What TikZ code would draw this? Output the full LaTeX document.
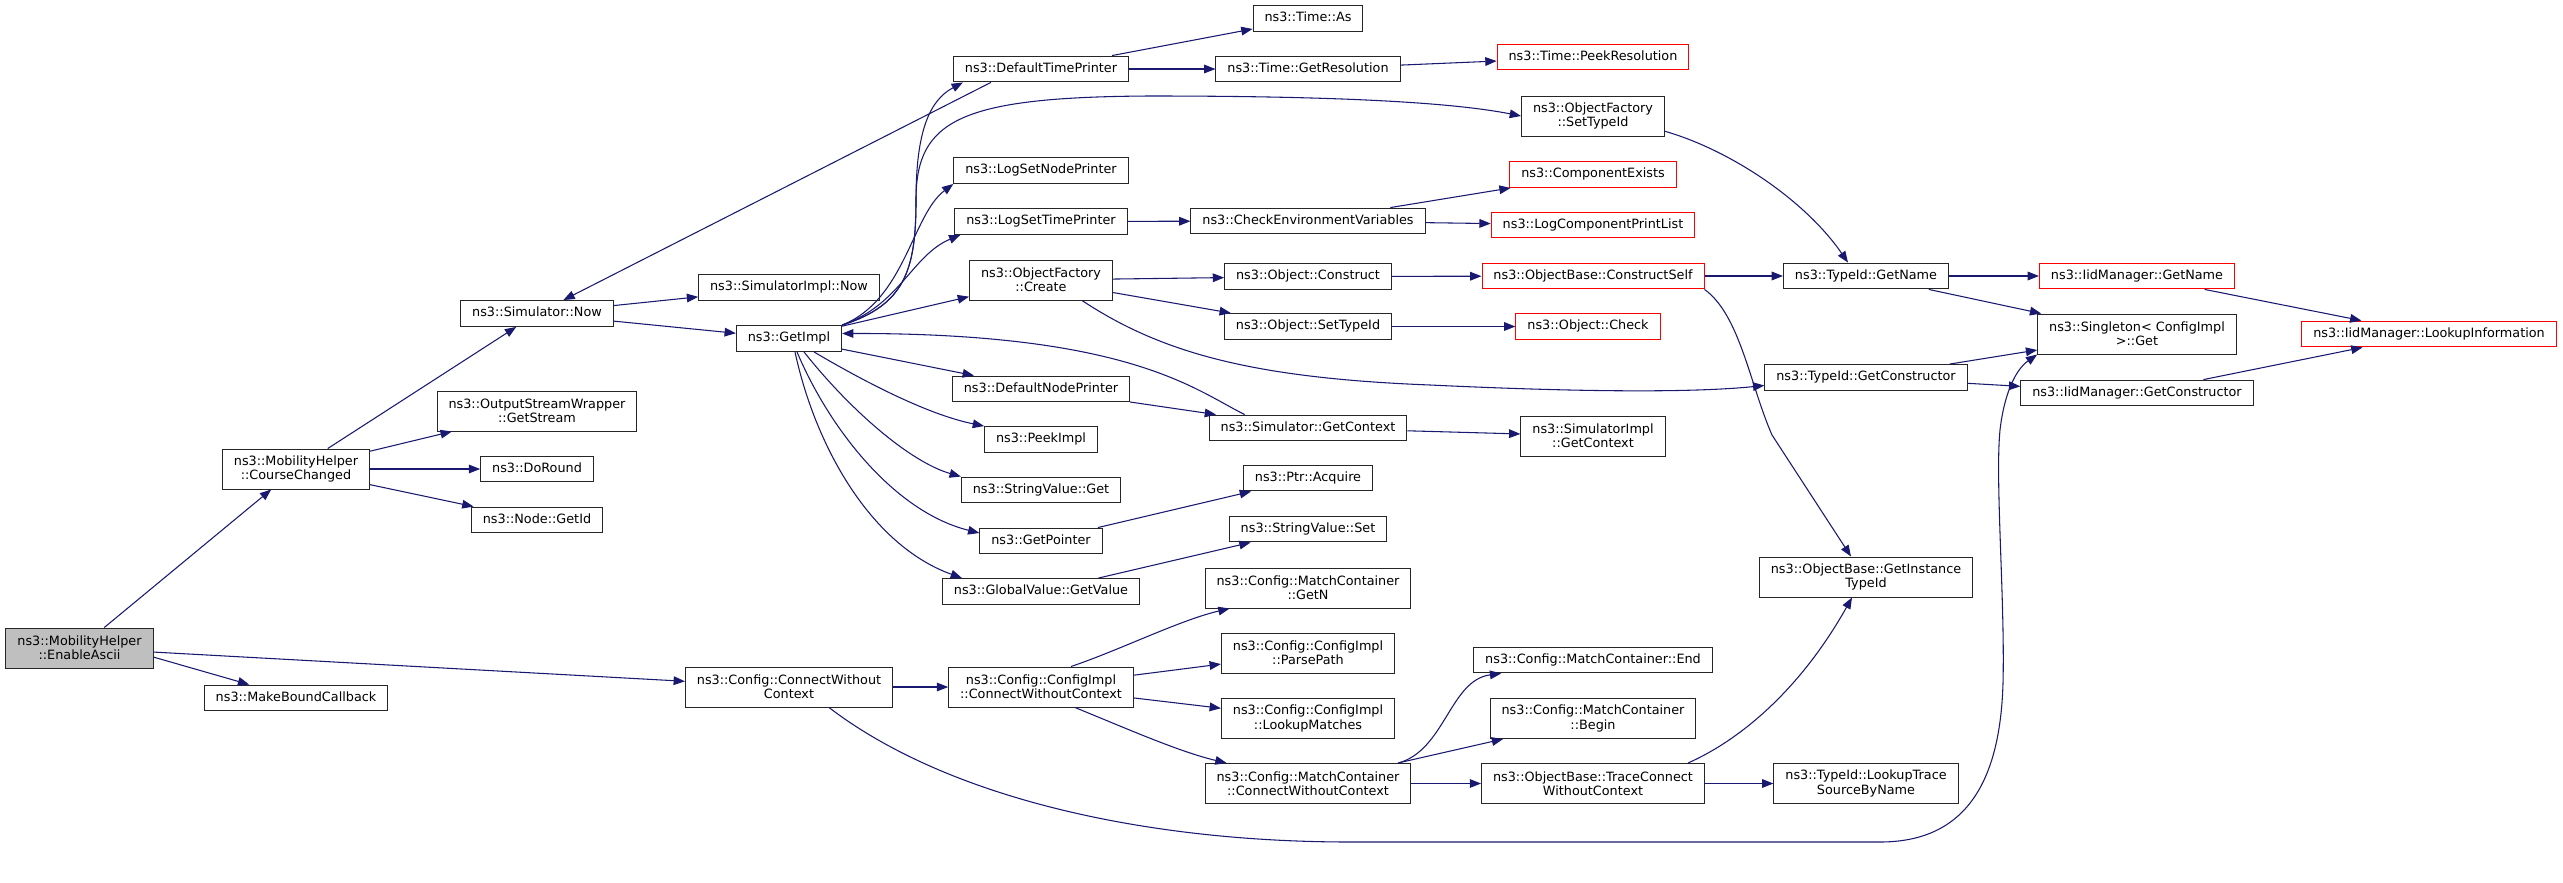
\documentclass[tikz,border=0pt]{standalone}
\usepackage{fontspec}
\setmainfont{DejaVu Sans}
\usetikzlibrary{positioning,calc,arrows.meta}
\definecolor{edgeblue}{RGB}{25,25,112}
\definecolor{rootgray}{RGB}{191,191,191}
\tikzset{font=\fontsize{9.6}{10.8}\selectfont}
\tikzset{
	box/.style={draw=black!85, line width=0.75pt, fill=white, inner xsep=8.6pt, inner ysep=0pt},
	fn/.style={box, text height=7.3pt, text depth=2.3pt, minimum height=19.4pt},
	fnn/.style={box, align=center, minimum height=30pt},
	truncfn/.style={draw=red},
	rootfn/.style={fill=rootgray},
	call/.style={draw=edgeblue, line width=0.8pt, -{Triangle[length=8.5pt,width=6.5pt]}},
}

\begin{document}
\begin{tikzpicture}[x=0.75pt, y=-0.75pt]
	\useasboundingbox (0,0) rectangle (2563,882);

	\node[fnn, rootfn] (enable) at (79.5,648) {ns3::MobilityHelper\\::EnableAscii};
	\node[fnn] (course) at (296,469) {ns3::MobilityHelper\\::CourseChanged};
	\node[fn] (bound) at (296,698) {ns3::MakeBoundCallback};
	\node[fn] (simnow) at (537,313.5) {ns3::Simulator::Now};
	\node[fnn] (stream) at (537,411) {ns3::OutputStreamWrapper\\::GetStream};
	\node[fn] (round) at (537,469) {ns3::DoRound};
	\node[fn] (getid) at (537,520) {ns3::Node::GetId};
	\node[fn] (implnow) at (789,287.5) {ns3::SimulatorImpl::Now};
	\node[fn] (getimpl) at (789,338.5) {ns3::GetImpl};
	\node[fnn] (connect) at (789,687) {ns3::Config::ConnectWithout\\Context};
	\node[fn] (timeprn) at (1041,69) {ns3::DefaultTimePrinter};
	\node[fn] (setnode) at (1041,170.5) {ns3::LogSetNodePrinter};
	\node[fn] (settime) at (1041,221.5) {ns3::LogSetTimePrinter};
	\node[fnn] (create) at (1041,280) {ns3::ObjectFactory\\::Create};
	\node[fn] (nodeprn) at (1041,389) {ns3::DefaultNodePrinter};
	\node[fn] (peek) at (1041,439.5) {ns3::PeekImpl};
	\node[fn] (strget) at (1041,490) {ns3::StringValue::Get};
	\node[fn] (getptr) at (1041,541) {ns3::GetPointer};
	\node[fn] (getval) at (1041,591.5) {ns3::GlobalValue::GetValue};
	\node[fnn] (implconn) at (1041,687) {ns3::Config::ConfigImpl\\::ConnectWithoutContext};
	\node[fn] (timeas) at (1308,18.5) {ns3::Time::As};
	\node[fn] (getres) at (1308,69) {ns3::Time::GetResolution};
	\node[fn] (checkenv) at (1308,221) {ns3::CheckEnvironmentVariables};
	\node[fn] (construct) at (1308,276.5) {ns3::Object::Construct};
	\node[fn] (objtid) at (1308,326.5) {ns3::Object::SetTypeId};
	\node[fn] (getctx) at (1308,428) {ns3::Simulator::GetContext};
	\node[fn] (acquire) at (1308,478) {ns3::Ptr::Acquire};
	\node[fn] (strset) at (1308,529) {ns3::StringValue::Set};
	\node[fnn] (getn) at (1308,588) {ns3::Config::MatchContainer\\::GetN};
	\node[fnn] (parse) at (1308,653) {ns3::Config::ConfigImpl\\::ParsePath};
	\node[fnn] (lookup) at (1308,718.5) {ns3::Config::ConfigImpl\\::LookupMatches};
	\node[fnn] (mconn) at (1308,783.5) {ns3::Config::MatchContainer\\::ConnectWithoutContext};
	\node[fn, truncfn] (peekres) at (1593,57) {ns3::Time::PeekResolution};
	\node[fnn] (factid) at (1593,116) {ns3::ObjectFactory\\::SetTypeId};
	\node[fn, truncfn] (exists) at (1593,174.5) {ns3::ComponentExists};
	\node[fn, truncfn] (printlist) at (1593,225) {ns3::LogComponentPrintList};
	\node[fn, truncfn] (cself) at (1593,276) {ns3::ObjectBase::ConstructSelf};
	\node[fn, truncfn] (check) at (1588,326.5) {ns3::Object::Check};
	\node[fnn] (implctx) at (1593,436) {ns3::SimulatorImpl\\::GetContext};
	\node[fn] (mend) at (1593,660) {ns3::Config::MatchContainer::End};
	\node[fnn] (mbegin) at (1593,718.5) {ns3::Config::MatchContainer\\::Begin};
	\node[fnn] (trace) at (1593,783.5) {ns3::ObjectBase::TraceConnect\\WithoutContext};
	\node[fn] (getname) at (1866,276) {ns3::TypeId::GetName};
	\node[fn] (getcons) at (1866,377.5) {ns3::TypeId::GetConstructor};
	\node[fnn] (insttid) at (1866,577) {ns3::ObjectBase::GetInstance\\TypeId};
	\node[fnn] (lookuptr) at (1866,783.5) {ns3::TypeId::LookupTrace\\SourceByName};
	\node[fn, truncfn] (iidname) at (2137,276) {ns3::IidManager::GetName};
	\node[fnn] (singleton) at (2137,334) {ns3::Singleton< ConfigImpl\\>::Get};
	\node[fn] (iidcons) at (2137,393) {ns3::IidManager::GetConstructor};
	\node[fn, truncfn] (iidinfo) at (2429,334) {ns3::IidManager::LookupInformation};

	\draw[call] (enable) -- (course);
	\draw[call] (enable.-7) -- (bound);
	\draw[call] (enable) -- (connect);
	\draw[call] (course) -- (simnow);
	\draw[call] (course) -- (stream);
	\draw[call] (course) -- (round);
	\draw[call] (course) -- (getid);
	\draw[call] (simnow) -- (implnow);
	\draw[call] (simnow) -- (getimpl);
	\draw[call] (timeprn.-165) -- (simnow);
	\draw[call] (timeprn) -- (timeas);
	\draw[call] (timeprn) -- (getres);
	\draw[call] (getres) -- (peekres);

	\draw[call] (getimpl.north east) .. controls (905,305) and (916,270) .. (916,200)
		.. controls (916,130) and (930,100) .. ($(timeprn.south west)+(10,0)$);
	\draw[call] (getimpl.north east) .. controls (905,305) and (916,270) .. (916,200)
		.. controls (916,120) and (960,97) .. (1150,96) .. controls (1300,96) and (1440,100) .. (factid.west);
	\draw[call] (getimpl.north east) .. controls (905,300) and (912,215) .. (setnode.south west);
	\draw[call] (getimpl.north east) .. controls (900,305) and (912,255) .. ($(settime.south west)+(6,0)$);
	\draw[call] (getimpl) -- (create);
	\draw[call] (getimpl) -- (nodeprn);
	\draw[call] ($(getimpl.south)+(25,0)$) .. controls (870,385) and (930,415) .. (peek.north west);
	\draw[call] ($(getimpl.south)+(15,0)$) .. controls (850,410) and (910,462) .. (strget.north west);
	\draw[call] ($(getimpl.south)+(8,0)$) .. controls (830,430) and (895,512) .. ($(getptr.west)+(0,-8)$);
	\draw[call] ($(getimpl.south)+(6,0)$) .. controls (815,445) and (870,545) .. ($(getval.north west)+(20,0)$);
	\draw[call] ($(getctx.north west)+(36,0)$) .. controls (1195,390) and (1130,333) .. ($(getimpl.east)+(0,-5)$);

	\draw[call] (nodeprn) -- (getctx);
	\draw[call] (getctx) -- (implctx);
	\draw[call] (getptr) -- (acquire);
	\draw[call] (getval) -- (strset);
	\draw[call] (create) -- (construct);
	\draw[call] (create) -- (objtid);
	\draw[call] ($(create.south)+(41,0)$) .. controls (1160,352) and (1250,378) .. (1430,385)
		.. controls (1600,393) and (1700,392) .. ($(getcons.west)+(0,8)$);
	\draw[call] (construct) -- (cself);
	\draw[call] (objtid) -- (check);
	\draw[call] (settime) -- (checkenv);
	\draw[call] (checkenv) -- (exists);
	\draw[call] (checkenv) -- (printlist);
	\draw[call] (factid.-12) .. controls (1730,150) and (1805,200) .. ($(getname.north)+(-18,0)$);
	\draw[call] (cself) -- (getname);
	\draw[call] (cself.south east) .. controls (1740,315) and (1750,385) .. (1772,435) -- ($(insttid.north)+(-15,0)$);
	\draw[call] (getname) -- (iidname);
	\draw[call] (getname) -- (singleton);
	\draw[call] (iidname) -- (iidinfo);
	\draw[call] (getcons) -- (singleton);
	\draw[call] (getcons) -- (iidcons);
	\draw[call] (iidcons) -- (iidinfo);

	\draw[call] ($(connect.south)+(40,0)$) .. controls (950,800) and (1150,842) .. (1350,842) -- (1880,842)
		.. controls (1960,842) and (2000,790) .. (2003,683) .. controls (2005,600) and (1995,480) .. (2000,430)
		.. controls (2004,395) and (2015,370) .. (singleton.south west);
	\draw[call] (connect) -- (implconn);
	\draw[call] ($(implconn.north)+(30,0)$) .. controls (1120,650) and (1180,620) .. ($(getn.south west)+(25,0)$);
	\draw[call] (implconn) -- (parse);
	\draw[call] (implconn) -- (lookup);
	\draw[call] ($(implconn.south)+(34,0)$) .. controls (1130,730) and (1180,752) .. ($(mconn.north west)+(22,0)$);
	\draw[call] ($(mconn.north east)+(-13,0)$) .. controls (1445,750) and (1450,680) .. ($(mend.south west)+(28,0)$);
	\draw[call] (mconn) -- (mbegin);
	\draw[call] (mconn) -- (trace);
	\draw[call] (trace) -- (lookuptr);
	\draw[call] ($(trace.north)+(95,0)$) .. controls (1740,740) and (1800,690) .. ($(insttid.south)+(-14,0)$);
\end{tikzpicture}
\end{document}
